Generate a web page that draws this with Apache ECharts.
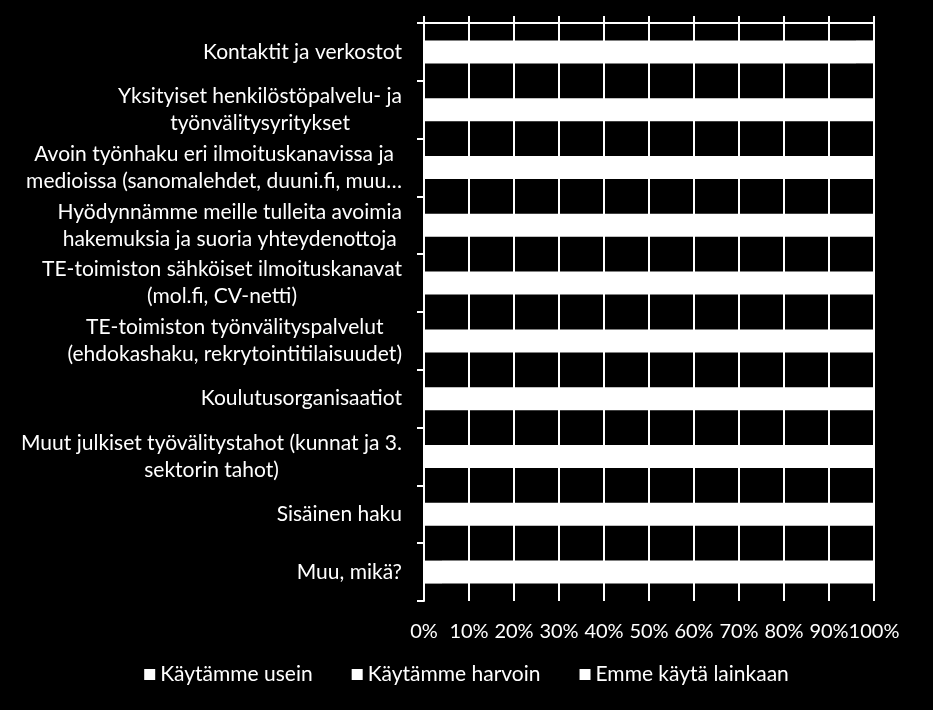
<!DOCTYPE html>
<html>
<head>
<meta charset="UTF-8">
<title>Rekrytointikanavat</title>
<style type="text/css">
html, body {
	margin: 0;
	padding: 0;
	width: 100%;
	height: 100%;
	background-color: #000;
}
#chart {
	width: 933px;
	height: 710px;
}
</style>
</head>
<body>
	<div id="chart"></div>
<script type="text/javascript" src="https://cdn.jsdelivr.net/npm/echarts@6/dist/echarts.min.js"></script>
<script type="text/javascript">
	// kategoriat ylhäältä alas
	var categories = [
		"Kontaktit ja verkostot",
		"Yksityiset henkilöstöpalvelu- ja\ntyönvälitysyritykset",
		"Avoin työnhaku eri ilmoituskanavissa ja\nmedioissa (sanomalehdet, duuni.fi, muu…",
		"Hyödynnämme meille tulleita avoimia\nhakemuksia ja suoria yhteydenottoja",
		"TE-toimiston sähköiset ilmoituskanavat\n(mol.fi, CV-netti)",
		"TE-toimiston työnvälityspalvelut\n(ehdokashaku, rekrytointitilaisuudet)",
		"Koulutusorganisaatiot",
		"Muut julkiset työvälitystahot (kunnat ja 3.\nsektorin tahot)",
		"Sisäinen haku",
		"Muu, mikä?"
	];
	var seriesNames = [ "Käytämme usein", "Käytämme harvoin", "Emme käytä lainkaan" ];
	// osuudet (%), palkit ovat kuvassa kaikki valkoisia -> arvioitu
	var useinData   = [ 62, 28, 36, 30, 20, 26, 10,  6, 16,  4 ];
	var harvoinData = [ 34, 44, 48, 52, 46, 44, 50, 34, 40,  8 ];
	var emmeData    = [  4, 28, 16, 18, 34, 30, 40, 60, 44, 88 ];
	var xTicks = [ 0, 10, 20, 30, 40, 50, 60, 70, 80, 90, 100 ];

	var FONT = 'Lato';
	var FS = 21;

	var chart = echarts.init(document.getElementById('chart'));

	function barSeries(name, data) {
		return {
			name : name,
			type : 'bar',
			stack : 'total',
			xAxisIndex : 0,
			barWidth : 23,
			itemStyle : { color : '#ffffff' },
			data : data
		};
	}

	var option = {
		backgroundColor : '#000000',
		animation : false,
		textStyle : { fontFamily : FONT },
		// leveys 450 px -> osien rajat osuvat kokonaisiin pikseleihin
		grid : {
			left : 424,
			right : 59,
			top : 23,
			bottom : 109
		},
		legend : {
			bottom : 20,
			left : 'center',
			icon : 'rect',
			itemWidth : 11,
			itemHeight : 11,
			itemGap : 39,
			textStyle : { color : '#ffffff', fontSize : FS, fontFamily : FONT },
			data : seriesNames
		},
		xAxis : [ {
			// yläreuna: viiva ja tikit
			type : 'value',
			position : 'top',
			min : 0,
			max : 100,
			interval : 10,
			axisLine : { show : true, lineStyle : { color : '#fff', width : 2 } },
			axisTick : { show : true, length : 7, lineStyle : { color : '#fff', width : 2 } },
			axisLabel : { show : false },
			splitLine : { show : true, lineStyle : { color : '#fff', width : 2 } }
		}, {
			// alareuna: prosenttiluvut
			type : 'value',
			position : 'bottom',
			min : 0,
			max : 100,
			interval : 10,
			axisLine : { show : false },
			axisTick : { show : false },
			splitLine : { show : false },
			axisLabel : {
				color : '#fff',
				fontSize : 20,
				fontFamily : FONT,
				margin : 21,
				formatter : function(v) {
					return xTicks.indexOf(v) >= 0 ? v + '%' : '';
				}
			}
		} ],
		yAxis : {
			type : 'category',
			inverse : true,
			data : categories,
			axisLine : { show : true, lineStyle : { color : '#fff', width : 2 } },
			axisTick : { show : true, length : 7, lineStyle : { color : '#fff', width : 2 } },
			axisLabel : {
				interval : 0,
				margin : 22,
				formatter : function(v) {
					return v.split('\n').map(function(l) {
						return '{c|' + l + '}';
					}).join('\n');
				},
				rich : {
					c : {
						align : 'center',
						color : '#fff',
						fontSize : FS,
						fontFamily : FONT,
						lineHeight : 27
					}
				}
			}
		},
		series : [
			barSeries(seriesNames[0], useinData),
			barSeries(seriesNames[1], harvoinData),
			barSeries(seriesNames[2], emmeData)
		]
	};

	chart.setOption(option);
</script>
</body>
</html>
